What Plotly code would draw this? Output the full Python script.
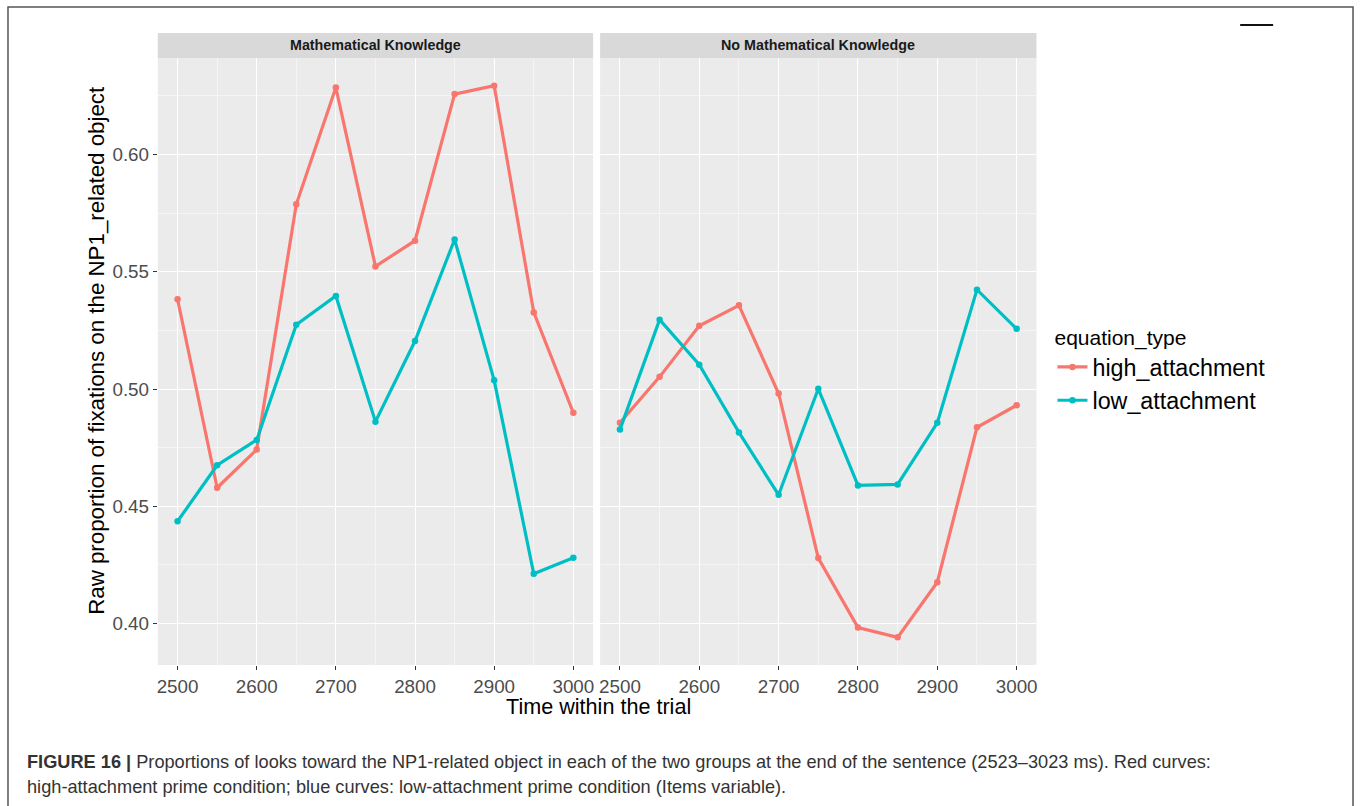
import plotly.graph_objects as go
from plotly.subplots import make_subplots

time_points = [2500, 2550, 2600, 2650, 2700, 2750, 2800, 2850, 2900, 2950, 3000]
panels = ["Mathematical Knowledge", "No Mathematical Knowledge"]
series_names = ["high_attachment", "low_attachment"]

math_high = [0.5383, 0.4579, 0.4742, 0.5788, 0.6286, 0.5523, 0.5633, 0.6258, 0.6294, 0.5327, 0.4899]
math_low = [0.4436, 0.4675, 0.4783, 0.5274, 0.5397, 0.4861, 0.5205, 0.5638, 0.5037, 0.4212, 0.4280]
nomath_high = [0.4856, 0.5052, 0.5270, 0.5357, 0.4981, 0.4279, 0.3983, 0.3941, 0.4176, 0.4837, 0.4931]
nomath_low = [0.4827, 0.5296, 0.5104, 0.4815, 0.4549, 0.5001, 0.4589, 0.4593, 0.4856, 0.5424, 0.5257]

y_ticks = [0.40, 0.45, 0.50, 0.55, 0.60]
x_ticks = [2500, 2600, 2700, 2800, 2900, 3000]

colors = {"high_attachment": "#F8766D", "low_attachment": "#00BFC4"}
FONT = "Liberation Sans, Arial, sans-serif"

W, H = 1360, 806
def px(x):
    return x / W
def py(y):
    return 1 - y / H

fig = make_subplots(rows=1, cols=2, shared_yaxes=True, horizontal_spacing=0.0)

data = {
    (1, "high_attachment"): math_high,
    (1, "low_attachment"): math_low,
    (2, "high_attachment"): nomath_high,
    (2, "low_attachment"): nomath_low,
}
for col in (1, 2):
    for name in series_names:
        fig.add_trace(
            go.Scatter(
                x=time_points, y=data[(col, name)], mode="lines+markers", name=name,
                line=dict(color=colors[name], width=3.2),
                marker=dict(color=colors[name], size=6.5),
                legendgroup=name, showlegend=(col == 1),
            ),
            row=1, col=col,
        )

ydom = [py(665), py(58)]
xdoms = [[px(157), px(593)], [px(600), px(1037)]]

axis_common = dict(
    showgrid=True, gridcolor="white", gridwidth=1.4,
    zeroline=False, showline=False,
    ticks="outside", ticklen=4, tickwidth=1, tickcolor="#333333",
    tickfont=dict(family=FONT, size=18.8, color="#4D4D4D"),
)
for i, dom in enumerate(xdoms):
    key = "xaxis" if i == 0 else "xaxis2"
    fig.layout[key].update(
        domain=dom, range=[2475, 3025], tickvals=x_ticks,
        minor=dict(dtick=50, tick0=2500, showgrid=True, gridcolor="#F5F5F5", gridwidth=0.7, ticks=""),
        **axis_common,
    )
for i in range(2):
    key = "yaxis" if i == 0 else "yaxis2"
    fig.layout[key].update(
        domain=ydom, range=[0.3823, 0.6412], tickvals=y_ticks, tickformat=".2f",
        minor=dict(dtick=0.05, tick0=0.375, showgrid=True, gridcolor="#F5F5F5", gridwidth=0.7, ticks=""),
        **axis_common,
    )
fig.layout.yaxis2.update(showticklabels=False, ticks="")

shapes = []
annotations = []
# outer border
shapes.append(dict(type="rect", xref="paper", yref="paper", x0=px(7), x1=px(1354), y0=py(815), y1=py(7),
                   line=dict(color="#555555", width=1.5), fillcolor="rgba(0,0,0,0)", layer="below"))
# stray line top right
shapes.append(dict(type="line", xref="paper", yref="paper", x0=px(1241), x1=px(1274), y0=py(25), y1=py(25),
                   line=dict(color="#111111", width=2)))
# strips
for dom, title in zip(xdoms, panels):
    shapes.append(dict(type="rect", xref="paper", yref="paper", x0=dom[0], x1=dom[1], y0=py(58), y1=py(33),
                       fillcolor="#D9D9D9", line=dict(width=0), layer="below"))
    annotations.append(dict(x=(dom[0] + dom[1]) / 2, y=py(45.5), xref="paper", yref="paper",
                            text="<b>" + title + "</b>", showarrow=False, xanchor="center", yanchor="middle",
                            font=dict(family=FONT, size=14.3, color="#1A1A1A")))

# axis titles
annotations.append(dict(x=px(95), y=py(350), xref="paper", yref="paper", text="Raw proportion of fixations on the NP1_related object",
                        textangle=-90, showarrow=False, xanchor="center", yanchor="middle",
                        font=dict(family=FONT, size=22.3, color="black")))
annotations.append(dict(x=px(598), y=py(706), xref="paper", yref="paper", text="Time within the trial",
                        showarrow=False, xanchor="center", yanchor="middle",
                        font=dict(family=FONT, size=21.6, color="black")))

# caption
cap1 = "<b>FIGURE 16 |</b> Proportions of looks toward the NP1-related object in each of the two groups at the end of the sentence (2523\u20133023 ms). Red curves:"
cap2 = "high-attachment prime condition; blue curves: low-attachment prime condition (Items variable)."
annotations.append(dict(x=px(24), y=py(762), xref="paper", yref="paper", text=cap1, showarrow=False,
                        xanchor="left", yanchor="middle", font=dict(family=FONT, size=18.2, color="#333333")))
annotations.append(dict(x=px(24), y=py(787), xref="paper", yref="paper", text=cap2, showarrow=False,
                        xanchor="left", yanchor="middle", font=dict(family=FONT, size=18.2, color="#333333")))

fig.update_layout(
    width=W, height=H,
    margin=dict(l=0, r=0, t=0, b=0),
    paper_bgcolor="white", plot_bgcolor="#EBEBEB",
    shapes=shapes, annotations=annotations,
    legend=dict(
        x=px(1053), y=py(318), xanchor="left", yanchor="top",
        title=dict(text="equation_type", font=dict(family=FONT, size=21, color="black")),
        font=dict(family=FONT, size=23.3, color="black"),
        tracegroupgap=0, itemwidth=30, bgcolor="rgba(0,0,0,0)",
    ),
    showlegend=True,
)

fig.write_html("out.html", config={"displayModeBar": False},
               post_script="document.body.style.margin='0';document.body.style.overflow='hidden';")
